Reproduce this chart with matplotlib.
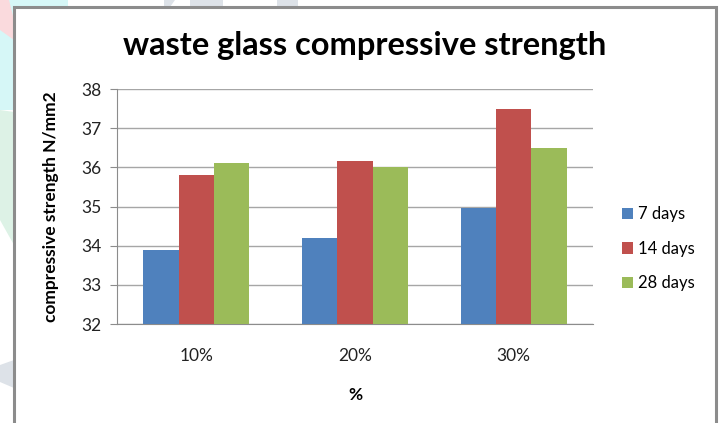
import matplotlib
matplotlib.use("Agg")
import matplotlib.pyplot as plt
from matplotlib.patches import Polygon, Rectangle
import numpy as np

categories = ["10%", "20%", "30%"]
series_names = ["7 days", "14 days", "28 days"]
days_7 = [33.9, 34.2, 34.95]
days_14 = [35.8, 36.15, 37.5]
days_28 = [36.1, 36.0, 36.5]
y_ticks = [32, 33, 34, 35, 36, 37, 38]

colors = ["#4F81BD", "#C0504D", "#9BBB59"]

plt.rcParams["font.family"] = ["Lato", "DejaVu Sans"]

W, H = 722, 423
fig = plt.figure(figsize=(W / 100, H / 100), dpi=100)
fig.patch.set_facecolor("white")


def px(x, y):
    return (x / W, 1 - y / H)


# faint decorative shapes behind the chart frame
deco = [
    ([(0, 0), (68, 0), (68, 8), (14, 8), (14, 110), (0, 110)], "#D6F7F7"),
    ([(0, 0), (9, 0), (14, 20), (14, 40), (0, 30)], "#FADADD"),
    ([(0, 110), (14, 112), (14, 245), (0, 220)], "#DDF2E6"),
    ([(0, 365), (14, 360), (14, 388), (0, 382)], "#DDE2E8"),
    ([(164, 0), (175, 0), (170, 7), (164, 7)], "#DDE2E8"),
    ([(190, 0), (223, 0), (223, 7), (190, 7)], "#DDE2E8"),
    ([(277, 0), (298, 0), (298, 7), (277, 7)], "#DDE2E8"),
]
for pts, c in deco:
    fig.patches.append(Polygon([px(x, y) for x, y in pts], closed=True,
                               transform=fig.transFigure, facecolor=c,
                               edgecolor="none", zorder=0))

# chart frame
fx0, fy0 = px(14, 7)
fx1, fy1 = px(716, 430)
fig.patches.append(Rectangle((fx0, fy1), fx1 - fx0, fy0 - fy1,
                             transform=fig.transFigure, facecolor="white",
                             edgecolor="#8C8C8C", linewidth=2.2, zorder=1))

ax = fig.add_axes([117 / W, 1 - 324 / H, (593 - 117) / W, (324 - 89) / H])
ax.set_zorder(2)
ax.patch.set_alpha(0)

x = np.arange(len(categories))
bw = 0.222
for i, (vals, name) in enumerate(zip([days_7, days_14, days_28], series_names)):
    ax.bar(x + (i - 1) * bw, [v - 32 for v in vals], bw, bottom=32,
           color=colors[i], label=name, zorder=3, linewidth=0)

ax.set_xlim(-0.5, 2.5)
ax.set_ylim(32, 38)
ax.set_yticks(y_ticks)
ax.set_yticklabels([str(t) for t in y_ticks], fontsize=12.5, color="#222222")
ax.set_xticks(x)
ax.set_xticklabels(categories, fontsize=12.5, color="#222222")
ax.yaxis.grid(True, color="#A6A6A6", linewidth=1.0, zorder=0)
ax.set_axisbelow(True)

for s in ["top", "right"]:
    ax.spines[s].set_visible(False)
ax.spines["left"].set_color("#8C8C8C")
ax.spines["bottom"].set_color("#8C8C8C")
ax.tick_params(axis="y", length=5, color="#8C8C8C", pad=6)
ax.tick_params(axis="x", length=0, pad=17)

ax.set_ylabel("compressive strength N/mm2", fontsize=12.5, fontweight="bold",
              labelpad=16)
ax.set_xlabel("%", fontsize=12.5, fontweight="bold", labelpad=17)

fig.text(365 / W, 1 - 46 / H, "waste glass compressive strength",
         fontsize=23.5, fontweight="bold", ha="center", va="center")

leg = ax.legend(loc="center left", bbox_to_anchor=(1.03, 0.32), frameon=False,
                fontsize=12, handlelength=0.65, handleheight=0.65,
                handletextpad=0.3, labelspacing=1.1)

fig.savefig("out.png", dpi=100)
